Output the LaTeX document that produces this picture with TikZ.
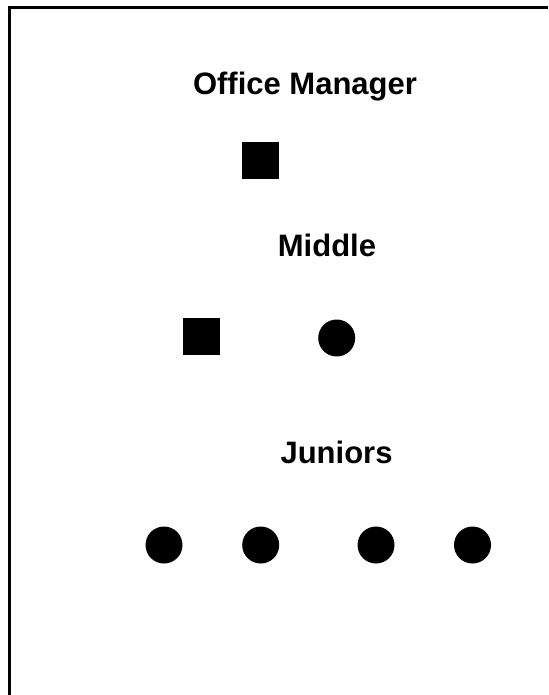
\documentclass[tikz,border=0pt]{standalone}
\usepackage{fontspec}
\setmainfont{Liberation Sans}
\begin{document}
\begin{tikzpicture}[x=1pt,y=-1pt,
  lbl/.style={font=\fontsize{31}{36}\selectfont\bfseries, anchor=base, inner sep=0pt},
  sq/.style={fill=black, minimum size=37pt, inner sep=0pt, rectangle},
  dot/.style={fill=black, minimum size=37pt, inner sep=0pt, circle},
  frame/.style={line width=3pt}]
\useasboundingbox (0,0) rectangle (548,695);
\draw[frame] (9,695) -- (9,7.5) -- (548,7.5);
\node[lbl] (om) at (305,95) {Office Manager};
\node[sq] (m1) at (260,160.5) {};
\node[lbl] (mid) at (327,256.5) {Middle};
\node[sq] (s2) at (201.5,336.5) {};
\node[dot] (c2) at (336.7,338) {};
\node[lbl] (jun) at (336.5,463) {Juniors};
\node[dot] (j1) at (164,545) {};
\node[dot] (j2) at (260.7,545) {};
\node[dot] (j3) at (376,545) {};
\node[dot] (j4) at (472.5,545) {};
\end{tikzpicture}
\end{document}
